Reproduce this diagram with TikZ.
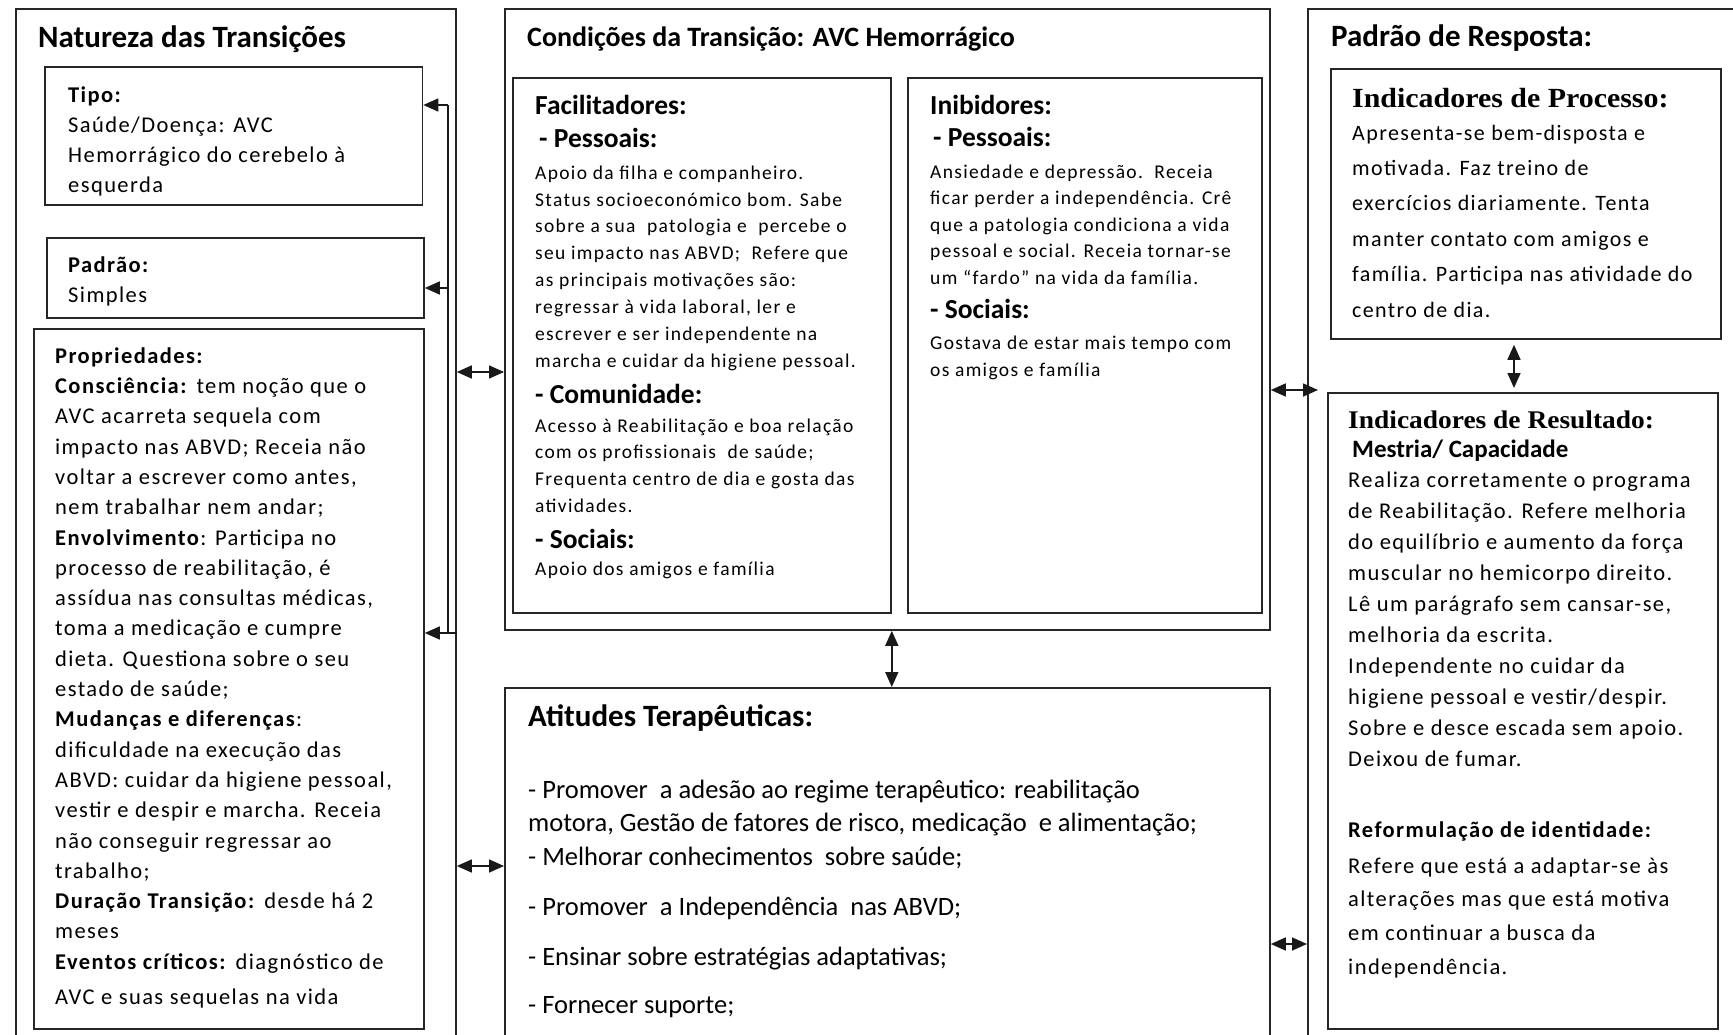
\documentclass[tikz,border=0pt]{standalone}
\usepackage{fontspec}
\setmainfont{Carlito}
\newfontfamily\lsA[LetterSpace=6.3]{Carlito}
\newfontfamily\lsB[LetterSpace=6.8]{Carlito}
\newfontfamily\camb[FakeStretch=1.08]{Liberation Serif}
\usetikzlibrary{arrows.meta}

\begin{document}
\begin{tikzpicture}[x=1pt,y=-1pt,
  box/.style 2 args={draw=black!85, line width=1.8pt, anchor=north west,
    inner sep=0pt, minimum width=#1, minimum height=#2},
  head/.style={anchor=base west, inner sep=0pt,
    font=\bfseries\fontsize{#1}{#1}\selectfont},
  sehead/.style={anchor=base west, inner sep=0pt,
    font=\camb\bfseries\fontsize{#1}{#1}\selectfont},
  para/.style={anchor=north west, inner sep=0pt, align=left},
  wire/.style={draw=black!90, line width=1.6pt},
  tip/.style={-{Triangle[length=15pt,width=13pt]}},
  dbl/.style={{Triangle[length=15pt,width=13pt]}-{Triangle[length=15pt,width=13pt]}}
]
\useasboundingbox (0,0) rectangle (1733,1035);
\clip (0,0) rectangle (1733,1035);

% ---------- frames ----------
\node[box={440}{1042}] (natbox) at (15,8) {};
\node[box={377.5}{138}] (tipo) at (44,66) {};
\node[box={377}{80}] (padrao) at (46,237) {};
\node[box={390}{700}] (prop) at (33,328) {};

\node[box={765}{621}] (cond) at (504,8) {};
\node[box={378}{535}] (facil) at (512,77) {};
\node[box={354}{535}] (inib) at (907,77) {};
\node[box={765}{380}] (atit) at (504,687) {};

\node[box={460}{1042}] (resp) at (1307,8) {};
\node[box={390}{270}] (proc) at (1330,68) {};
\node[box={390}{636}] (result) at (1327,392) {};

% ---------- Natureza das Transições ----------
\node[head=31] (natT) at (38,48) {Natureza das Transições};
\node[para, font=\lsA\fontsize{22.5}{30.2}\selectfont] (tipoT) at (68,80.9)
  {\strut\textbf{Tipo:}\\Saúde/Doença: AVC\\Hemorrágico do cerebelo à\\esquerda};
\node[para, font=\lsA\fontsize{22.5}{30.2}\selectfont] (padraoT) at (68,250.9)
  {\strut\textbf{Padrão:}\\Simples};
\node[para, font=\lsA\fontsize{22.5}{30.3}\selectfont] (propT) at (55,341.8)
  {\strut\textbf{Propriedades:}\\
   \textbf{Consciência:} tem noção que o\\
   AVC acarreta sequela com\\
   impacto nas ABVD; Receia não\\
   voltar a escrever como antes,\\
   nem trabalhar nem andar;\\
   \textbf{Envolvimento}: Participa no\\
   processo de reabilitação, é\\
   assídua nas consultas médicas,\\
   toma a medicação e cumpre\\
   dieta. Questiona sobre o seu\\
   estado de saúde;\\
   \textbf{Mudanças e diferenças}:\\
   dificuldade na execução das\\
   ABVD: cuidar da higiene pessoal,\\
   vestir e despir e marcha. Receia\\
   não conseguir regressar ao\\
   trabalho;\\
   \textbf{Duração Transição:} desde há 2\\
   meses\\
   \textbf{Eventos críticos:} diagnóstico de\\[4.7pt]
   AVC e suas sequelas na vida};

% ---------- Condições da Transição ----------
\node[head=28] (condT) at (527,47) {Condições da Transição: AVC Hemorrágico};

\node[head=27.5] (facT) at (535,115) {Facilitadores:};
\node[head=27.5] (facP) at (539,148) {- Pessoais:};
\node[para, font=\lsB\fontsize{19.5}{26.86}\selectfont] (facB1) at (535,160.2)
  {\strut Apoio da filha e companheiro.\\
   Status socioeconómico bom. Sabe\\
   sobre a sua\ \ patologia e\ \ percebe o\\
   seu impacto nas ABVD;\ \ Refere que\\
   as principais motivações são:\\
   regressar à vida laboral, ler e\\
   escrever e ser independente na\\
   marcha e cuidar da higiene pessoal.};
\node[head=27.5] (facC) at (535,403) {- Comunidade:};
\node[para, font=\lsB\fontsize{19.5}{26.7}\selectfont] (facB2) at (535,413.3)
  {\strut Acesso à Reabilitação e boa relação\\
   com os profissionais\ \ de saúde;\\
   Frequenta centro de dia e gosta das\\
   atividades.};
\node[head=27.5] (facS) at (535,548) {- Sociais:};
\node[anchor=base west, inner sep=0pt, font=\lsB\fontsize{19.5}{26.7}\selectfont]
  (facB3) at (535,575) {Apoio dos amigos e família};

\node[head=27.5] (inibT) at (930,115) {Inibidores:};
\node[head=27.5] (inibP) at (933,147) {- Pessoais:};
\node[para, font=\lsB\fontsize{19.5}{26.5}\selectfont] (inibB1) at (930,159.4)
  {\strut Ansiedade e depressão.\ \ Receia\\
   ficar perder a independência. Crê\\
   que a patologia condiciona a vida\\
   pessoal e social. Receia tornar-se\\
   um “fardo” na vida da família.};
\node[head=27.5] (inibS) at (930,319) {- Sociais:};
\node[para, font=\lsB\fontsize{19.5}{26.4}\selectfont] (inibB2) at (930,331.1)
  {\strut Gostava de estar mais tempo com\\
   os amigos e família};

% ---------- Atitudes Terapêuticas ----------
\node[head=31] (atT) at (528,726) {Atitudes Terapêuticas:};
\node[para, font=\fontsize{26.5}{33.5}\selectfont] (atB) at (528,774.5)
  {\strut- Promover\ \ a adesão ao regime terapêutico: reabilitação\\
   motora, Gestão de fatores de risco, medicação\ \ e alimentação;\\
   - Melhorar conhecimentos\ \ sobre saúde;\\[16.5pt]
   - Promover\ \ a Independência\ \ nas ABVD;\\[16.5pt]
   - Ensinar sobre estratégias adaptativas;\\[14.5pt]
   - Fornecer suporte;};

% ---------- Padrão de Resposta ----------
\node[head=31] (respT) at (1331,47) {Padrão de Resposta:};
\node[sehead=27.7] (procT) at (1352,108) {Indicadores de Processo:};
\node[para, font=\lsA\fontsize{22}{35.4}\selectfont] (procB) at (1352,115.2)
  {\strut Apresenta-se bem-disposta e\\
   motivada. Faz treino de\\
   exercícios diariamente. Tenta\\
   manter contato com amigos e\\
   família. Participa nas atividade do\\
   centro de dia.};

\node[sehead=25.4] (resT) at (1348,428) {Indicadores de Resultado:};
\node[head=25] (resM) at (1352,457) {Mestria/ Capacidade};
\node[para, font=\lsA\fontsize{22.5}{31}\selectfont] (resB1) at (1348,465.3)
  {\strut Realiza corretamente o programa\\
   de Reabilitação. Refere melhoria\\
   do equilíbrio e aumento da força\\
   muscular no hemicorpo direito.\\
   Lê um parágrafo sem cansar-se,\\
   melhoria da escrita.\\
   Independente no cuidar da\\
   higiene pessoal e vestir/despir.\\
   Sobre e desce escada sem apoio.\\
   Deixou de fumar.};
\node[anchor=base west, inner sep=0pt, font=\lsA\bfseries\fontsize{22.5}{30}\selectfont]
  (resR) at (1348,837) {Reformulação de identidade:};
\node[para, font=\lsA\fontsize{22.5}{33.7}\selectfont] (resB2) at (1348,849.4)
  {\strut Refere que está a adaptar-se às\\
   alterações mas que está motiva\\
   em continuar a busca da\\
   independência.};

% ---------- connectors ----------
\coordinate (busT) at (448,105);
\coordinate (busP) at (448,288);
\coordinate (busB) at (448,633);
\draw[wire] (natbox.east |- busB) -- (busB) -- (busT);
\draw[wire, tip] (busT) -- (tipo.east |- busT);
\draw[wire, tip] (busP) -- (padrao.east |- busP);
\draw[wire, tip] (busB) -- (prop.east |- busB);

\draw[wire, dbl] (natbox.east |- 0,372) -- (cond.west |- 0,372);
\draw[wire, dbl] (natbox.east |- 0,866) -- (atit.west |- 0,866);
\draw[wire, dbl] (facil.east |- cond.south) -- (facil.east |- atit.north);

\coordinate (rin) at (1318,390);
\draw[wire, dbl] (cond.east |- rin) -- (rin);
\draw[wire, dbl] (atit.east |- 0,944) -- (resp.west |- 0,944);

\coordinate (pr) at (1514,0);
\draw[wire, dbl, shorten <=5pt, shorten >=4pt] (proc.south -| pr) -- (result.north -| pr);
\end{tikzpicture}
\end{document}
